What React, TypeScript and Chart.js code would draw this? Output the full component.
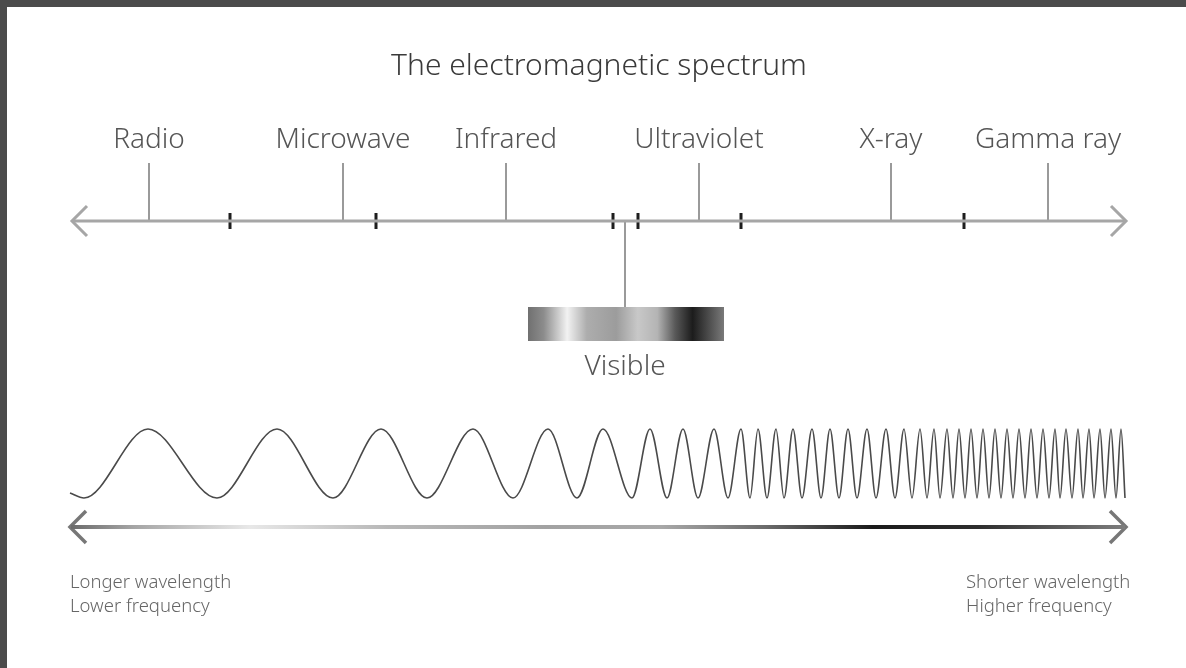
import React, { useEffect, useRef } from "react";
import { Chart, registerables } from "chart.js";

Chart.register(...registerables);

// ---- data ----
const titleText = "The electromagnetic spectrum";
const bandNames = ["Radio", "Microwave", "Infrared", "Ultraviolet", "X-ray", "Gamma ray"];
const bandPos = [149, 343, 506, 699, 891, 1048];
const boundaryPos = [230, 376, 613, 638, 741, 964];
const visiblePos = 625;
const visibleLabel = "Visible";
const waveStart = { x: 70, y: 493 };
const wavePeakX = [148, 277, 381, 473, 548, 603, 650, 683, 714, 741, 758, 776, 793, 812, 830, 848, 867, 886, 904, 920, 934, 947, 959, 971, 983, 995, 1007, 1019, 1031, 1043, 1055, 1066, 1078, 1089, 1100, 1111, 1121];
const waveTroughX = [84, 217, 333, 427, 513, 577, 632, 667, 698, 728, 750, 767, 784, 802, 821, 839, 857, 876, 895, 912, 927, 940, 953, 965, 977, 989, 1001, 1013, 1025, 1037, 1049, 1060, 1072, 1083, 1094, 1105, 1116, 1125];
const leftNotes = ["Longer wavelength", "Lower frequency"];
const rightNotes = ["Shorter wavelength", "Higher frequency"];

// ---- layout constants (diagram units) ----
const W = 1186;
const H = 668;
const AXIS_Y = 221;
const AXIS_L = 72;
const AXIS_R = 1126;
const STEM_TOP = 163;
const TICK_HALF = 8;
const PEAK_Y = 429;
const TROUGH_Y = 498;
const LOW_Y = 527;
const LOW_L = 70;
const LOW_R = 1126;
const BAR_L = 528;
const BAR_R = 724;
const BAR_T = 307;
const BAR_B = 341;

const FONT = '"Noto Sans", "Open Sans", sans-serif';

function segs(xs: number[], y0: number, y1: number) {
  const out: any[] = [];
  xs.forEach((x) => {
    out.push({ x, y: y0 }, { x, y: y1 }, { x, y: null });
  });
  return out;
}

function waveData() {
  const pts: any[] = [{ x: waveStart.x, y: waveStart.y }];
  const n = Math.max(wavePeakX.length, waveTroughX.length);
  for (let i = 0; i < n; i++) {
    if (i < waveTroughX.length) pts.push({ x: waveTroughX[i], y: TROUGH_Y });
    if (i < wavePeakX.length) pts.push({ x: wavePeakX[i], y: PEAK_Y });
  }
  return pts;
}

function chevron(tipX: number, y: number, dir: number, len: number, h: number) {
  return [
    { x: tipX - dir * len, y: y - h },
    { x: tipX, y },
    { x: tipX - dir * len, y: y + h },
  ];
}

const decorPlugin = {
  id: "decor",
  beforeDatasetsDraw(chart: any) {
    const { ctx, scales } = chart;
    const xs = scales.x;
    const ys = scales.y;
    const l = xs.getPixelForValue(BAR_L);
    const r = xs.getPixelForValue(BAR_R);
    const t = ys.getPixelForValue(BAR_T);
    const b = ys.getPixelForValue(BAR_B);
    if (![l, r, t, b].every((v) => Number.isFinite(v))) return;
    const g = ctx.createLinearGradient(l, 0, r, 0);
    g.addColorStop(0, "#707070");
    g.addColorStop(0.08, "#8c8c8c");
    g.addColorStop(0.2, "#f2f2f2");
    g.addColorStop(0.3, "#adadad");
    g.addColorStop(0.45, "#9c9c9c");
    g.addColorStop(0.56, "#c8c8c8");
    g.addColorStop(0.66, "#b4b4b4");
    g.addColorStop(0.75, "#595959");
    g.addColorStop(0.84, "#1c1c1c");
    g.addColorStop(1, "#7a7a7a");
    ctx.save();
    ctx.fillStyle = g;
    ctx.fillRect(l, t, r - l, b - t);
    ctx.restore();
  },
  afterDatasetsDraw(chart: any) {
    const { ctx, scales } = chart;
    const xs = scales.x;
    const ys = scales.y;
    ctx.save();
    ctx.textBaseline = "middle";
    ctx.textAlign = "center";
    ctx.fillStyle = "#3a3a3a";
    ctx.font = `300 30px ${FONT}`;
    ctx.fillText(titleText, xs.getPixelForValue(599), ys.getPixelForValue(66));

    ctx.fillStyle = "#555";
    ctx.font = `300 28px ${FONT}`;
    bandNames.forEach((name, i) => {
      ctx.fillText(name, xs.getPixelForValue(bandPos[i]), ys.getPixelForValue(140));
    });
    ctx.fillText(visibleLabel, xs.getPixelForValue(visiblePos), ys.getPixelForValue(367));

    ctx.fillStyle = "#666";
    ctx.font = `300 18.5px ${FONT}`;
    ctx.textAlign = "left";
    leftNotes.forEach((s, i) => {
      ctx.fillText(s, xs.getPixelForValue(70), ys.getPixelForValue(583 + i * 24));
    });
    rightNotes.forEach((s, i) => {
      ctx.fillText(s, xs.getPixelForValue(966), ys.getPixelForValue(583 + i * 24));
    });
    ctx.restore();
  },
};

export default function App() {
  const ref = useRef<HTMLCanvasElement | null>(null);

  useEffect(() => {
    if (!ref.current) return;
    const line = (data: any[], color: any, width: number, extra: any = {}) => ({
      data,
      borderColor: color,
      borderWidth: width,
      pointRadius: 0,
      fill: false,
      spanGaps: false,
      tension: 0,
      borderCapStyle: "butt",
      borderJoinStyle: "miter",
      ...extra,
    });

    const lowGradient = (context: any) => {
      const chart = context.chart;
      const xs = chart.scales && chart.scales.x;
      if (!xs) return "#888";
      const l = xs.getPixelForValue(LOW_L);
      const r = xs.getPixelForValue(LOW_R);
      if (!Number.isFinite(l) || !Number.isFinite(r)) return "#888";
      const g = chart.ctx.createLinearGradient(l, 0, r, 0);
      g.addColorStop(0, "#6a6a6a");
      g.addColorStop(0.06, "#a5a5a5");
      g.addColorStop(0.17, "#e8e8e8");
      g.addColorStop(0.3, "#b8b8b8");
      g.addColorStop(0.45, "#a2a2a2");
      g.addColorStop(0.56, "#a8a8a8");
      g.addColorStop(0.66, "#6a6a6a");
      g.addColorStop(0.76, "#1a1a1a");
      g.addColorStop(0.86, "#2e2e2e");
      g.addColorStop(1, "#7e7e7e");
      return g;
    };

    const chart = new Chart(ref.current, {
      type: "line",
      data: {
        datasets: [
          line(waveData(), "#4a4a4a", 1.6, { cubicInterpolationMode: "monotone" }),
          line([{ x: AXIS_L + 1, y: AXIS_Y }, { x: AXIS_R - 1, y: AXIS_Y }], "#a6a6a6", 3),
          line(chevron(AXIS_L, AXIS_Y, -1, 15, 15), "#a6a6a6", 3),
          line(chevron(AXIS_R, AXIS_Y, 1, 15, 15), "#a6a6a6", 3),
          line(segs(bandPos, STEM_TOP, AXIS_Y), "#7a7a7a", 1.5),
          line(segs(boundaryPos, AXIS_Y - TICK_HALF, AXIS_Y + TICK_HALF), "#1e1e1e", 3),
          line(segs([visiblePos], AXIS_Y, BAR_T), "#7a7a7a", 1.5),
          line([{ x: LOW_L + 1, y: LOW_Y }, { x: LOW_R - 1, y: LOW_Y }], lowGradient, 4),
          line(chevron(LOW_L, LOW_Y, -1, 16, 16), "#777", 3.5),
          line(chevron(LOW_R, LOW_Y, 1, 16, 16), "#777", 3.5),
        ],
      },
      options: {
        animation: false,
        responsive: false,
        events: [],
        layout: { padding: 0 },
        plugins: { legend: { display: false }, tooltip: { enabled: false }, title: { display: false } },
        scales: {
          x: { type: "linear", min: 0, max: W, display: false },
          y: { type: "linear", min: 0, max: H, reverse: true, display: false },
        },
      },
      plugins: [decorPlugin],
    } as any);
    return () => chart.destroy();
  }, []);

  return (
    <div style={{ position: "absolute", left: 0, top: 0, width: W, height: H, background: "#4b4b4b", overflow: "hidden" }}>
      <div style={{ position: "absolute", left: 7, top: 7, right: 0, bottom: 0, background: "#ffffff" }} />
      <canvas ref={ref} width={W} height={H} style={{ position: "absolute", left: 0, top: 0, width: W, height: H }} />
    </div>
  );
}
